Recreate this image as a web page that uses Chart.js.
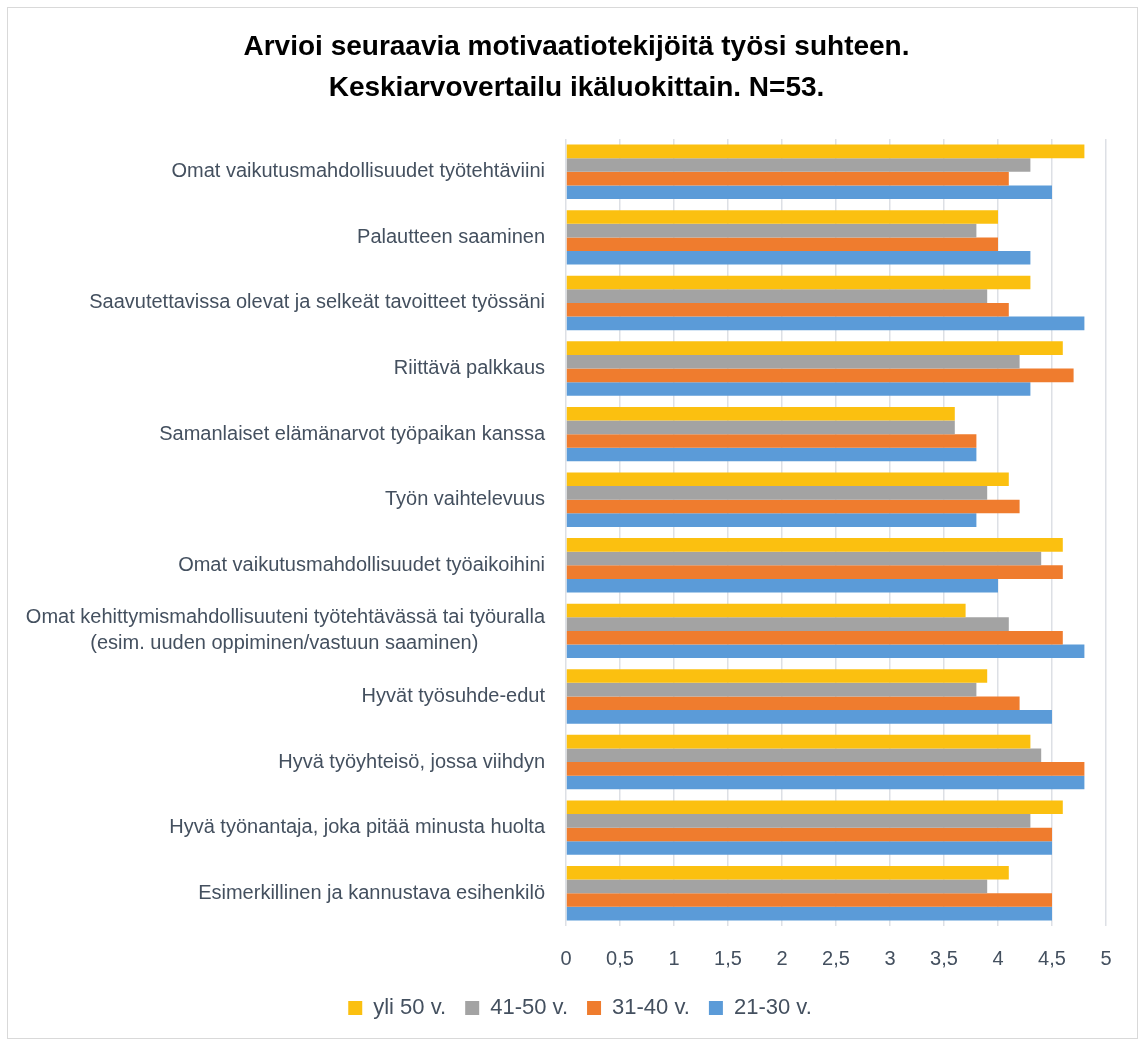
<!DOCTYPE html>
<html>
<head>
<meta charset="utf-8">
<script src="https://cdn.jsdelivr.net/npm/chart.js@4.4.1/dist/chart.umd.min.js"></script>
<style>
  html, body { margin: 0; padding: 0; background: #fff; }
  #wrap { position: relative; width: 1141px; height: 1041px; }
  #frame { position: absolute; left: 7px; top: 7px; width: 1131px; height: 1032px; border: 1px solid #d9d9d9; box-sizing: border-box; pointer-events: none; }
</style>
</head>
<body>
<div id="wrap">
  <canvas id="chart" width="1141" height="1041"></canvas>
  <div id="frame"></div>
</div>
<script>
const FONT = 'Liberation Sans, Arial, sans-serif';
const LABEL_SIZE = 20;

const titleLines = ['Arvioi seuraavia motivaatiotekijöitä työsi suhteen.', 'Keskiarvovertailu ikäluokittain. N=53.'];

// kategoriat ylhäältä alas
const categories = [
    'Omat vaikutusmahdollisuudet työtehtäviini',
    'Palautteen saaminen',
    'Saavutettavissa olevat ja selkeät tavoitteet työssäni',
    'Riittävä palkkaus',
    'Samanlaiset elämänarvot työpaikan kanssa',
    'Työn vaihtelevuus',
    'Omat vaikutusmahdollisuudet työaikoihini',
    ['Omat kehittymismahdollisuuteni työtehtävässä tai työuralla',
     '(esim. uuden oppiminen/vastuun saaminen)'],
    'Hyvät työsuhde-edut',
    'Hyvä työyhteisö, jossa viihdyn',
    'Hyvä työnantaja, joka pitää minusta huolta',
    'Esimerkillinen ja kannustava esihenkilö'
];

const seriesNames = ['yli 50 v.', '41-50 v.', '31-40 v.', '21-30 v.'];

const yli50 = [4.8, 4.0, 4.3, 4.6, 3.6, 4.1, 4.6, 3.7, 3.9, 4.3, 4.6, 4.1];
const v41_50 = [4.3, 3.8, 3.9, 4.2, 3.6, 3.9, 4.4, 4.1, 3.8, 4.4, 4.3, 3.9];
const v31_40 = [4.1, 4.0, 4.1, 4.7, 3.8, 4.2, 4.6, 4.6, 4.2, 4.8, 4.5, 4.5];
const v21_30 = [4.5, 4.3, 4.8, 4.3, 3.8, 3.8, 4.0, 4.8, 4.5, 4.8, 4.5, 4.5];

const xMin = 0, xMax = 5, xStep = 0.5;

const colors = ['#fbc010', '#a3a3a3', '#ef7c2e', '#5b9bd8'];
const textColor = '#44505f';

// monirivinen nimike keskitetään: lyhyempi rivi täytetään välilyönneillä oikealta
const mctx = document.createElement('canvas').getContext('2d');
mctx.font = LABEL_SIZE + 'px ' + FONT;
function centerLines(label) {
    if (!Array.isArray(label)) return label;
    const widths = label.map(l => mctx.measureText(l).width);
    const maxW = Math.max(...widths);
    const sp = mctx.measureText('\u00a0').width;
    return label.map((l, i) => l + '\u00a0'.repeat(Math.round((maxW - widths[i]) / 2 / sp)));
}

// otsikko piirretään itse, jotta se on keskellä koko kuvaa
const titlePlugin = {
    id: 'bigTitle',
    afterLayout(chart) {
        // selite hieman oikealle kuten alkuperäisessä
        chart.legend.left += 27;
        chart.legend.right += 27;
    },
    afterDraw(chart) {
        const ctx = chart.ctx;
        ctx.save();
        ctx.font = 'bold 28px ' + FONT;
        ctx.fillStyle = '#000';
        ctx.textAlign = 'center';
        ctx.textBaseline = 'middle';
        titleLines.forEach((t, i) => ctx.fillText(t, chart.width / 2 + 6, 47 + i * 41));
        ctx.restore();
    }
};

new Chart(document.getElementById('chart'), {
    type: 'bar',
    data: {
        labels: categories.map(centerLines),
        datasets: [yli50, v41_50, v31_40, v21_30].map((d, i) => ({
            label: seriesNames[i],
            data: d,
            backgroundColor: colors[i],
            borderWidth: 0,
            barPercentage: 1.0,
            categoryPercentage: 0.83
        }))
    },
    plugins: [titlePlugin],
    options: {
        indexAxis: 'y',
        responsive: false,
        animation: false,
        layout: { padding: { top: 139, left: 0, right: 35, bottom: 12 } },
        plugins: {
            title: { display: false },
            legend: {
                position: 'bottom',
                labels: {
                    color: textColor,
                    font: { family: FONT, size: 22 },
                    boxWidth: 14,
                    boxHeight: 14,
                    padding: 19
                }
            },
            tooltip: { enabled: false }
        },
        scales: {
            x: {
                min: xMin,
                max: xMax,
                ticks: {
                    stepSize: xStep,
                    color: textColor,
                    font: { family: FONT, size: 20 },
                    padding: 21,
                    callback: v => String(v).replace('.', ',')
                },
                grid: { color: '#dde0e5', lineWidth: 1.5, drawTicks: false },
                border: { display: false },
                afterFit: s => { s.height = 52; }
            },
            y: {
                ticks: {
                    color: textColor,
                    font: { family: FONT, size: LABEL_SIZE, lineHeight: 1.3 },
                    padding: 21,
                    autoSkip: false
                },
                grid: { display: false, drawTicks: false },
                border: { display: false },
                afterFit: s => { s.width = 566; }
            }
        }
    }
});
</script>
</body>
</html>
